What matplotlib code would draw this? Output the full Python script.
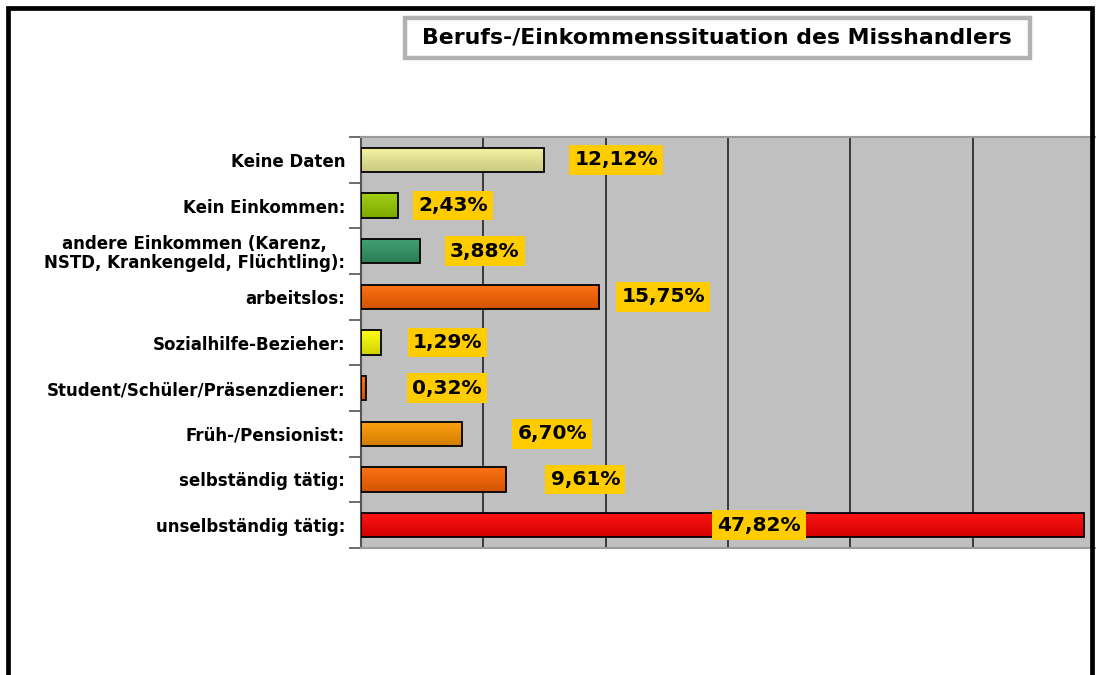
import numpy as np
import matplotlib
matplotlib.use("Agg")
import matplotlib.pyplot as plt
from matplotlib.patches import Rectangle
from matplotlib.colors import to_rgb

# ---------------- data ----------------
categories = [
    "Keine Daten",
    "Kein Einkommen:",
    "andere Einkommen (Karenz,\nNSTD, Krankengeld, Flüchtling):",
    "arbeitslos:",
    "Sozialhilfe-Bezieher:",
    "Student/Schüler/Präsenzdiener:",
    "Früh-/Pensionist:",
    "selbständig tätig:",
    "unselbständig tätig:",
]
values = [12.12, 2.43, 3.88, 15.75, 1.29, 0.32, 6.70, 9.61, 47.82]
value_labels = ["12,12%", "2,43%", "3,88%", "15,75%", "1,29%", "0,32%", "6,70%", "9,61%", "47,82%"]
title = "Berufs-/Einkommenssituation des Misshandlers"

# ---------------- styles ----------------
bar_colors = ["#F4F49C", "#99CC00", "#339966", "#FF6600", "#FFFF00",
              "#FF6600", "#FF9900", "#FF6600", "#FF0000"]
label_offsets_px = [72, 55, 65, 64, 67, 81, 90, 79, -325]
FONT = "DejaVu Sans"

W, H = 1096, 675
fig = plt.figure(figsize=(W / 100, H / 100), dpi=100)
fig.patch.set_facecolor("white")

ax_left, ax_right, ax_top, ax_bottom = 361, 1095, 137, 548
ax = fig.add_axes([ax_left / W, 1 - ax_bottom / H,
                   (ax_right - ax_left) / W, (ax_bottom - ax_top) / H])
ax.set_facecolor("#C0C0C0")

n = len(categories)
y = np.arange(n)
xmax = 48.55
bars = ax.barh(y, values, height=0.53, color=bar_colors, edgecolor="black",
               linewidth=1.3, zorder=3)

# gradient fill inside each bar (lighter top, darker bottom)
for patch, c in zip(bars.patches, bar_colors):
    base = np.array(to_rgb(c))
    top = np.clip(base * 1.0 + (1 - base) * 0.08, 0, 1)
    bot = base * 0.82
    t = np.linspace(0, 1, 64)[:, None]
    grad = (top[None, :] * (1 - t) + bot[None, :] * t)[:, None, :]
    x0, y0 = patch.get_x(), patch.get_y()
    w, h = patch.get_width(), patch.get_height()
    im = ax.imshow(grad, extent=[x0, x0 + w, y0 + h, y0], aspect="auto",
                   zorder=3.5, origin="upper", interpolation="bilinear")
    im.set_clip_path(patch)
    patch.set_facecolor("none")
    patch.set_zorder(4)

ax.set_xlim(0, xmax)
ax.set_ylim(n - 0.5, -0.5)

# gridlines
grid_x = np.linspace(0, xmax, 7)[1:-1]
for gx in grid_x:
    ax.axvline(gx, color="#222222", lw=1.2, zorder=1)
ax.set_xticks([])

# y ticks: labels at centers, tick marks at boundaries
ax.set_yticks(y)
ax.set_yticklabels(categories, fontfamily=FONT, fontweight="bold", fontsize=12,
                   multialignment="center", linespacing=1.05)
ax.tick_params(axis="y", which="major", length=0, pad=11.5)
ax.set_yticks(np.arange(-0.5, n, 1.0), minor=True)
ax.tick_params(axis="y", which="minor", length=8.6, width=1.2, color="#555555")

for s in ["top", "bottom"]:
    ax.spines[s].set_color("#9A9A9A")
    ax.spines[s].set_linewidth(1.5)
ax.spines["left"].set_color("#555555")
ax.spines["left"].set_linewidth(1.5)
ax.spines["right"].set_visible(False)

# value labels
for yi, v, lab, off in zip(y, values, value_labels, label_offsets_px):
    ax.annotate(lab, xy=(v, yi), xytext=(off, 0), textcoords="offset pixels",
                ha="center", va="center", fontsize=14.5, fontweight="bold",
                fontfamily=FONT, color="black", zorder=6,
                bbox=dict(boxstyle="square,pad=0.26", fc="#FFCC00", ec="none"))

# title box
tb = Rectangle((404.5 / W, 1 - 57.5 / H), (1029.5 - 404.5) / W, (57.5 - 17.5) / H,
               transform=fig.transFigure, facecolor="white", edgecolor="#B2B2B2",
               linewidth=3.2, zorder=10)
fig.add_artist(tb)
fig.text(717 / W, 1 - 43.5 / H, title, ha="center", va="baseline",
         fontsize=15.8, fontweight="bold", fontfamily=FONT, zorder=11)

# outer frame (open at bottom, cut by image edge)
frame = Rectangle((7.5 / W, -0.05), (1092 - 7.5) / W, 1.05 - 7.5 / H,
                  transform=fig.transFigure, facecolor="none", edgecolor="black",
                  linewidth=3.4, zorder=20, clip_on=False)
fig.add_artist(frame)

fig.savefig("out.png", dpi=100, facecolor="white")
